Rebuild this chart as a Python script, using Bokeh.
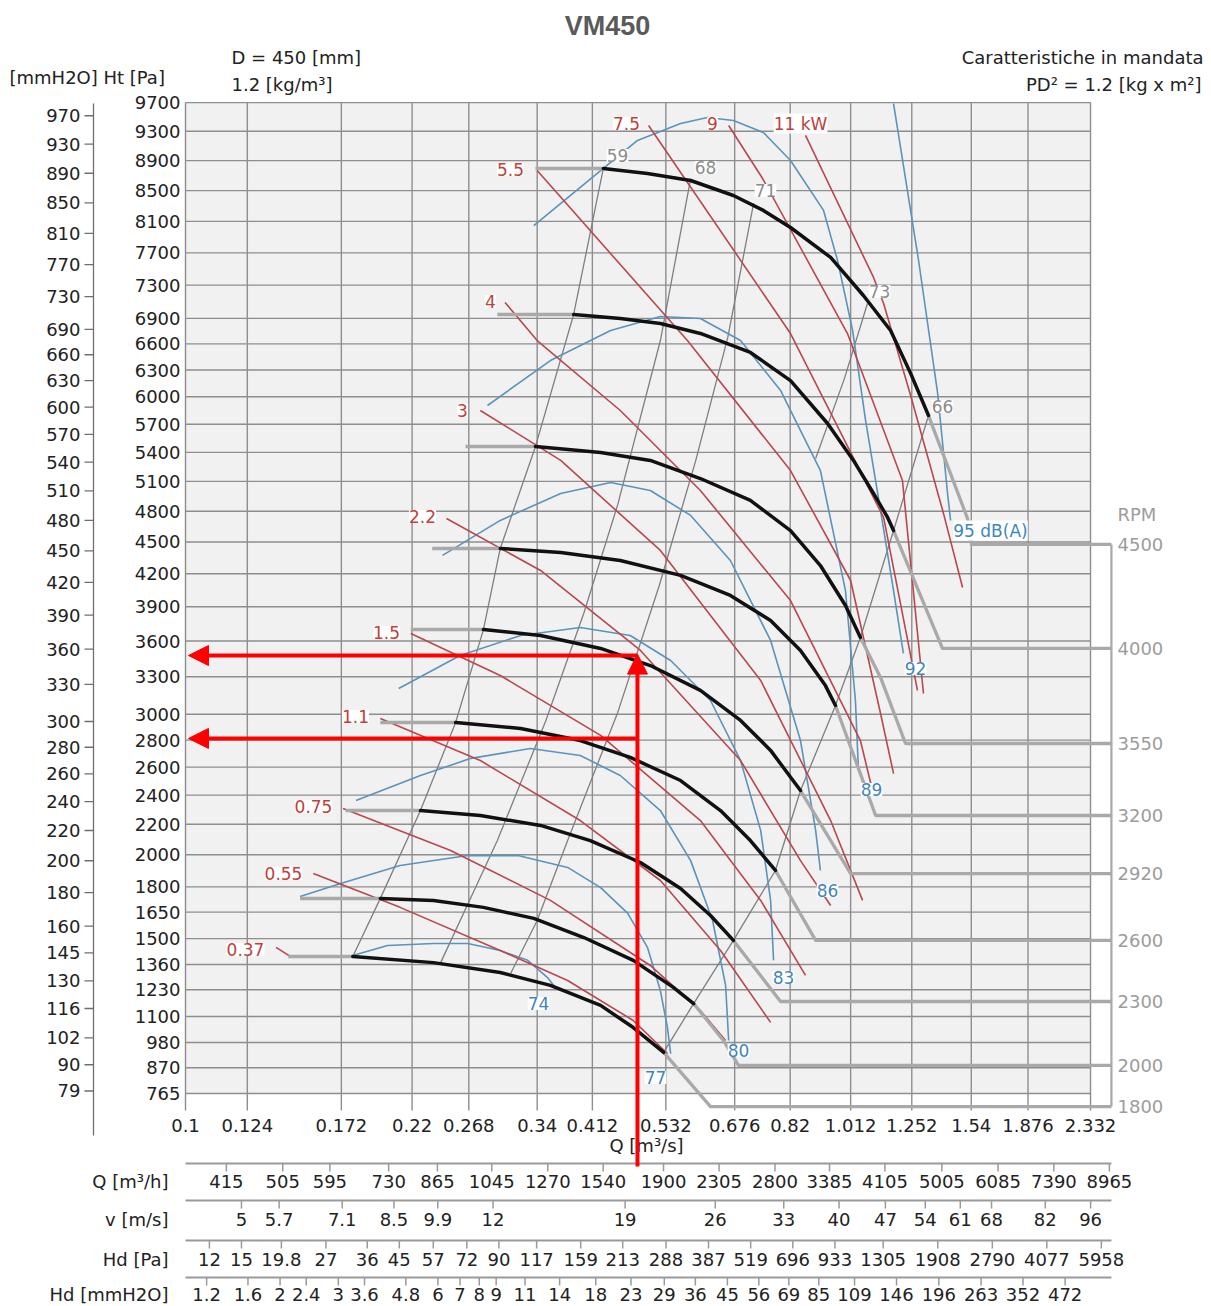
import numpy as np
from bokeh.plotting import figure
from bokeh.models import Range1d, ColumnDataSource, LabelSet, Arrow, NormalHead
from bokeh.embed import file_html
from bokeh.resources import INLINE
from bokeh.core.properties import value

# ---------------- data ----------------
q_ticks = [0.1, 0.124, 0.172, 0.22, 0.268, 0.34, 0.412, 0.532, 0.676, 0.82, 1.012, 1.252, 1.54, 1.876, 2.332]
pa_ticks = [765, 870, 980, 1100, 1230, 1360, 1500, 1650, 1800, 2000, 2200, 2400, 2600, 2800, 3000, 3300,
            3600, 3900, 4200, 4500, 4800, 5100, 5400, 5700, 6000, 6300, 6600, 6900, 7300, 7700, 8100,
            8500, 8900, 9300, 9700]
mm_ticks = [970, 930, 890, 850, 810, 770, 730, 690, 660, 630, 600, 570, 540, 510, 480, 450, 420, 390,
            360, 330, 300, 280, 260, 240, 220, 200, 180, 160, 145, 130, 116, 102, 90, 79]

q_h_labels = [415, 505, 595, 730, 865, 1045, 1270, 1540, 1900, 2305, 2800, 3385, 4105, 5005, 6085, 7390, 8965]
v_labels = [5, 5.7, 7.1, 8.5, 9.9, 12, 19, 26, 33, 40, 47, 54, 61, 68, 82, 96]
hd_pa_labels = [12, 15, 19.8, 27, 36, 45, 57, 72, 90, 117, 159, 213, 288, 387, 519, 696, 933, 1305,
                1908, 2790, 4077, 5958]
hd_mm_labels = [1.2, 1.6, 2, 2.4, 3, 3.6, 4.8, 6, 7, 8, 9, 11, 14, 18, 23, 29, 36, 45, 56, 69, 85, 109,
                146, 196, 263, 352, 472]
outlet_area = 0.0243   # m2, relates v to Q
rho = 1.2

rpm_levels = [1800, 2000, 2300, 2600, 2920, 3200, 3550, 4000, 4500]
# black part of each fan curve (Q m3/s, P Pa)
fan_q = {
    1800: [0.179, 0.237, 0.299, 0.356, 0.424, 0.475, 0.528],
    2000: [0.197, 0.237, 0.282, 0.336, 0.400, 0.475, 0.546, 0.586],
    2300: [0.2265, 0.279, 0.344, 0.409, 0.487, 0.560, 0.6215, 0.673],
    2600: [0.256, 0.321, 0.395, 0.470, 0.560, 0.6435, 0.714, 0.779],
    2920: [0.282, 0.344, 0.424, 0.504, 0.600, 0.690, 0.766, 0.850],
    3200: [0.299, 0.369, 0.454, 0.560, 0.666, 0.766, 0.850, 0.927, 0.960],
    3550: [0.338, 0.424, 0.504, 0.600, 0.714, 0.821, 0.911, 0.994, 1.047],
    4000: [0.386, 0.454, 0.522, 0.600, 0.714, 0.821, 0.934, 1.022, 1.096, 1.151, 1.175],
    4500: [0.428, 0.499, 0.580, 0.673, 0.747, 0.821, 0.944, 1.058, 1.163, 1.247, 1.327],
}
fan_p = {
    1800: [1403, 1370, 1318, 1252, 1153, 1048, 936],
    2000: [1731, 1719, 1678, 1614, 1506, 1382, 1242, 1162],
    2300: [2293, 2259, 2192, 2092, 1951, 1790, 1631, 1490],
    2600: [2935, 2889, 2797, 2671, 2503, 2293, 2092, 1901],
    2920: [3699, 3648, 3537, 3393, 3189, 2951, 2723, 2432],
    3200: [4438, 4400, 4324, 4185, 4002, 3779, 3520, 3228, 3068],
    3550: [5463, 5399, 5316, 5129, 4907, 4610, 4277, 3911, 3631],
    4000: [6946, 6899, 6839, 6722, 6501, 6181, 5708, 5316, 4977, 4738, 4610],
    4500: [8795, 8727, 8634, 8436, 8241, 8021, 7642, 7174, 6757, 6262, 5794],
}
# grey flat start of each curve (Q where it begins)
fan_stub_q = {1800: 0.143, 2000: 0.149, 2300: 0.1745, 2600: 0.197, 2920: 0.219, 3200: 0.236,
              3550: 0.265, 4000: 0.296, 4500: 0.338}
# grey tail after the black part (Q, P), ending on the RPM level
tail_q = {1800: [0.6215], 2000: [0.650, 0.685], 2300: [0.793], 2600: [0.896], 2920: [1.012],
          3200: [1.104], 3550: [1.123, 1.225], 4000: [1.393], 4500: [1.520, 1.541]}
tail_p = {1800: [714], 2000: [989, 880], 2300: [1172], 2600: [1490], 2920: [1882],
          3200: [2259], 3550: [3295, 2775], 4000: [3537], 4500: [4728, 4476]}
rpm_line_end_q = 2.508

# power curves (kW)
pw_names = ["0.37", "0.55", "0.75", "1.1", "1.5", "2.2", "3", "4", "5.5", "7.5", "9", "11 kW"]
pw_q = {
    "0.37": [0.137, 0.144],
    "0.55": [0.156, 0.211, 0.299, 0.378, 0.475, 0.535],
    "0.75": [0.173, 0.2516, 0.356, 0.504, 0.600, 0.655],
    "1.1": [0.197, 0.279, 0.395, 0.522, 0.6435, 0.766],
    "1.5": [0.219, 0.299, 0.424, 0.600, 0.740, 0.865],
    "2.2": [0.248, 0.344, 0.487, 0.690, 0.850, 0.944],
    "3": [0.279, 0.369, 0.522, 0.740, 0.944, 1.055],
    "4": [0.304, 0.340, 0.454, 0.600, 0.821, 1.047, 1.092],
    "5.5": [0.340, 0.5735, 0.821, 1.012, 1.123, 1.175],
    "7.5": [0.501, 0.821, 1.135, 1.277],
    "9": [0.662, 0.745, 1.001, 1.212, 1.304],
    "11 kW": [0.865, 1.096, 1.135, 1.247, 1.398, 1.494],
}
pw_p = {
    "0.37": [1452, 1403],
    "0.55": [1882, 1678, 1435, 1277, 1081, 931],
    "0.75": [2307, 2028, 1719, 1355, 1128, 989],
    "1.1": [2967, 2648, 2225, 1839, 1435, 1072],
    "1.5": [3665, 3311, 2836, 2225, 1719, 1303],
    "2.2": [4728, 4231, 3520, 2648, 1963, 1689],
    "3": [5849, 5316, 4419, 3270, 2225, 1719],
    "4": [7090, 6639, 5849, 5007, 3956, 2797, 2432],
    "5.5": [8768, 6639, 5211, 4138, 3005, 2553],
    "7.5": [9380, 6721, 4738, 3189],
    "9": [9380, 8660, 6721, 5109, 3164],
    "11 kW": [9243, 7394, 7078, 6014, 4778, 4074],
}

# noise curves dB(A)
db_names = ["74", "77", "80", "83", "86", "89", "92", "95 dB(A)"]
db_q = {
    "74": [0.179, 0.202, 0.237, 0.267, 0.299, 0.329, 0.3525, 0.362],
    "77": [0.149, 0.1716, 0.211, 0.267, 0.318, 0.378, 0.424, 0.466, 0.499, 0.522, 0.535, 0.541],
    "80": [0.181, 0.2265, 0.270, 0.332, 0.395, 0.454, 0.522, 0.580, 0.626, 0.655, 0.662],
    "83": [0.210, 0.260, 0.321, 0.395, 0.470, 0.541, 0.6215, 0.690, 0.740, 0.766, 0.774],
    "86": [0.2446, 0.299, 0.369, 0.439, 0.504, 0.580, 0.666, 0.766, 0.850, 0.896, 0.911],
    "89": [0.286, 0.356, 0.439, 0.522, 0.600, 0.690, 0.793, 0.911, 0.994, 1.029, 1.040],
    "92": [0.336, 0.428, 0.482, 0.560, 0.615, 0.673, 0.747, 0.821, 0.921, 0.967, 1.019, 1.066, 1.123,
           1.175, 1.216],
    "95 dB(A)": [1.175, 1.282, 1.370, 1.418, 1.433],
}
db_p = {
    "74": [1408, 1462, 1473, 1473, 1435, 1382, 1292, 1242],
    "77": [1742, 1821, 1932, 1995, 1995, 1920, 1796, 1643, 1452, 1226, 1048, 931],
    "80": [2362, 2539, 2664, 2737, 2685, 2539, 2293, 1963, 1602, 1252, 989],
    "83": [3205, 3477, 3648, 3717, 3648, 3435, 3108, 2648, 2159, 1719, 1382],
    "86": [4372, 4709, 4977, 5088, 5007, 4758, 4324, 3605, 2797, 2159, 1901],
    "89": [5904, 6408, 6757, 6922, 6899, 6639, 6070, 5211, 4046, 3108, 2576],
    "92": [8046, 8795, 9174, 9409, 9491, 9450, 9283, 8902, 8241, 7604, 6757, 5741, 4807, 4046, 3494],
    "95 dB(A)": [9687, 7604, 6037, 4977, 4709],
}

# efficiency lines (%)
eff_names = ["59", "68", "71", "73", "66"]
eff_q = {
    "59": [0.179, 0.197, 0.2265, 0.256, 0.282, 0.299, 0.338, 0.386, 0.428],
    "68": [0.243, 0.296, 0.350, 0.400, 0.450, 0.522, 0.580],
    "71": [0.310, 0.340, 0.378, 0.450, 0.520, 0.590, 0.660, 0.722],
    "73": [0.896, 0.990, 1.073],
    "66": [0.528, 0.586, 0.673, 0.779, 0.850, 0.960, 1.047, 1.175, 1.327],
}
eff_p = {
    "59": [1403, 1731, 2293, 2935, 3699, 4438, 5463, 6946, 8795],
    "68": [1370, 2092, 2943, 3844, 4865, 6639, 8660],
    "71": [1313, 1602, 2092, 3014, 4092, 5309, 6675, 8332],
    "73": [5336, 6200, 7078],
    "66": [936, 1162, 1490, 1901, 2432, 3068, 3631, 4610, 5794],
}

# operating point shown by the red arrows
op_q = 0.482
op_p = [3477, 2813]

# ---------------- page layout helpers (page pixel -> data) ----------------
FONT = "DejaVu Sans"
FS = "18px"
PXD = 661.7          # px per decade of Q
S765 = float(np.sqrt(765.0))
PXS = 13.99          # px per unit of sqrt(Pa)


def S(p):
    return np.sqrt(np.asarray(p, dtype=float))


def qx(xp):
    return 0.1 * 10 ** ((xp - 185) / PXD)


def sy(yp):
    return S765 + (1093 - yp) / PXS


W, H = 1211, 1304

GRID = "#8e8e8e"
BG = "#f1f1f1"
BLACK = "#111111"
GREYF = "#a9a9a9"
RED = "#b9474d"
REDT = "#c0403d"
BLUE = "#5a93bb"
BLUET = "#3f86bb"
EFF = "#7f7f7f"
EFFT = "#8c8c8c"
TXT = "#222222"
RPMT = "#9c9c9c"

p = figure(width=W, height=H, x_axis_type="log", x_range=Range1d(qx(0), qx(W)),
           y_range=Range1d(sy(H), sy(0)), x_axis_location=None, y_axis_location=None,
           output_backend="svg", toolbar_location=None, min_border=0,
           outline_line_color=None, background_fill_color="white", border_fill_color="white")
p.grid.visible = False


def txt(xs, ys, texts, align="center", color=TXT, size=FS, font=FONT, style="normal"):
    p.text(x=list(xs), y=list(ys), text=list(texts), text_align=align, text_baseline="middle",
           text_font=value(font), text_font_size=value(size), text_font_style=style, text_color=color)


# ---- header ----
txt([qx(607)], [sy(25)], ["VM450"], size="27px", font="Liberation Sans", style="bold", color="#5a5a5a")
txt([qx(9)], [sy(77)], ["[mmH2O] Ht [Pa]"], align="left")
txt([qx(231)], [sy(57)], ["D = 450 [mm]"], align="left")
txt([qx(231)], [sy(84)], ["1.2 [kg/m\u00b3]"], align="left")
txt([qx(1203)], [sy(57)], ["Caratteristiche in mandata"], align="right")
txt([qx(1201)], [sy(84)], ["PD\u00b2 = 1.2 [kg x m\u00b2]"], align="right")

# ---- chart background and grid ----
s_top = float(S(pa_ticks[-1]))
p.quad(left=[q_ticks[0]], right=[q_ticks[-1]], bottom=[S765], top=[s_top], fill_color=BG, line_color=None)
s_grid_bot = sy(1110)
p.segment(x0=q_ticks, x1=q_ticks, y0=[s_grid_bot] * len(q_ticks), y1=[s_top] * len(q_ticks),
          line_color=GRID, line_width=1.4)
sp = [float(v) for v in S(pa_ticks)]
p.segment(x0=[q_ticks[0]] * len(sp), x1=[q_ticks[-1]] * len(sp), y0=sp, y1=sp, line_color=GRID, line_width=1.4)

# ---- y scales (Pa and mmH2O) ----
txt([qx(180)] * len(sp), sp, [str(v) for v in pa_ticks], align="right")
mm_s = [float(v) for v in S(np.array(mm_ticks) * 9.81)]
txt([qx(80)] * len(mm_s), mm_s, [str(v) for v in mm_ticks], align="right")
p.segment(x0=[qx(84)] * len(mm_s), x1=[qx(93)] * len(mm_s), y0=mm_s, y1=mm_s, line_color="#6e6e6e", line_width=1.3)
p.segment(x0=[qx(93)], x1=[qx(93)], y0=[sy(1135)], y1=[sy(103)], line_color="#6e6e6e", line_width=1.3)

# ---- x scale labels ----
txt(q_ticks, [sy(1125)] * len(q_ticks), [("%g" % v) for v in q_ticks])
txt([qx(646)], [sy(1145)], ["Q [m\u00b3/s]"])

# ---- curves ----
for n in eff_names:
    p.line(eff_q[n], S(eff_p[n]), line_color=EFF, line_width=1.3)
for n in db_names:
    p.line(db_q[n], S(db_p[n]), line_color=BLUE, line_width=1.6)
for n in pw_names:
    p.line(pw_q[n], S(pw_p[n]), line_color=RED, line_width=1.6)

for r in rpm_levels:
    qs, ps = fan_q[r], fan_p[r]
    p.line([fan_stub_q[r], qs[0]], S([ps[0], ps[0]]), line_color=GREYF, line_width=3.5)
    tq = [qs[-1]] + tail_q[r] + [rpm_line_end_q]
    tp = [ps[-1]] + tail_p[r] + [tail_p[r][-1]]
    p.line(tq, S(tp), line_color=GREYF, line_width=3.3, line_join="round")
    p.line(qs, S(ps), line_color=BLACK, line_width=3.5, line_join="round", line_cap="round")
rpm_p = [tail_p[r][-1] for r in rpm_levels]
p.line([rpm_line_end_q, rpm_line_end_q], S([max(rpm_p), min(rpm_p)]), line_color=GREYF, line_width=2.2)

# RPM scale
rpm_s = [float(v) for v in S(rpm_p)]
txt([qx(1117)] * (len(rpm_s) + 1), rpm_s + [sy(514)], [str(r) for r in rpm_levels] + ["RPM"],
    align="left", color=RPMT)


def labels(texts, xs, ys, color, size="17px"):
    src = ColumnDataSource(dict(x=[qx(v) for v in xs], y=[sy(v) for v in ys], t=texts))
    p.add_layout(LabelSet(x="x", y="y", text="t", source=src, text_align="center", text_baseline="middle",
                          text_color=color, text_font=value(FONT), text_font_size=value(size),
                          background_fill_color="white"))


labels(pw_names, [245, 283, 313, 355, 386, 422, 462, 490, 510, 626, 712, 800],
       [949, 873, 806, 716, 632, 516, 410, 301, 169, 123, 123, 123], REDT)
labels(db_names, [538, 655, 738, 783, 827, 871, 915, 990], [1003, 1077, 1050, 977, 890, 789, 668, 530], BLUET)
labels(eff_names, [617, 705, 765, 879, 942], [155, 167, 190, 291, 406], EFFT)

# ---- table below the chart ----
row_y = [1181, 1219, 1259, 1294]
sep_y = [1163, 1200, 1240, 1277]
row_names = ["Q [m\u00b3/h]", "v [m/s]", "Hd [Pa]", "Hd [mmH2O]"]
txt([qx(168)] * 4, [sy(v) for v in row_y], row_names, align="right")
p.segment(x0=[0.1] * 4, x1=[rpm_line_end_q] * 4, y0=[sy(v) for v in sep_y], y1=[sy(v) for v in sep_y],
          line_color="#9a9a9a", line_width=2)
rows_pos = [
    [v / 3600.0 for v in q_h_labels],
    [v * outlet_area for v in v_labels],
    [outlet_area * np.sqrt(v / (0.5 * rho)) for v in hd_pa_labels],
    [outlet_area * np.sqrt(v * 9.81 / (0.5 * rho)) for v in hd_mm_labels],
]
rows_txt = [q_h_labels, v_labels, hd_pa_labels, hd_mm_labels]
for xs, tx, ry, sy_ in zip(rows_pos, rows_txt, row_y, sep_y):
    p.segment(x0=xs, x1=xs, y0=[sy(sy_)] * len(xs), y1=[sy(sy_ + 8)] * len(xs), line_color="#9a9a9a",
              line_width=1.5)
    txt(xs, [sy(ry)] * len(xs), [("%g" % v) for v in tx])

# ---- red arrows (operating point) ----
for pp in op_p:
    p.add_layout(Arrow(end=NormalHead(size=20, fill_color="red", line_color="red"), x_start=op_q,
                       y_start=float(S(pp)), x_end=qx(188), y_end=float(S(pp)), line_color="red", line_width=4))
p.add_layout(Arrow(end=NormalHead(size=20, fill_color="red", line_color="red"), x_start=op_q,
                   y_start=sy(1166), x_end=op_q, y_end=float(S(op_p[0])) + 0.1, line_color="red", line_width=4))

open("out.html", "w").write(file_html(p, INLINE))
